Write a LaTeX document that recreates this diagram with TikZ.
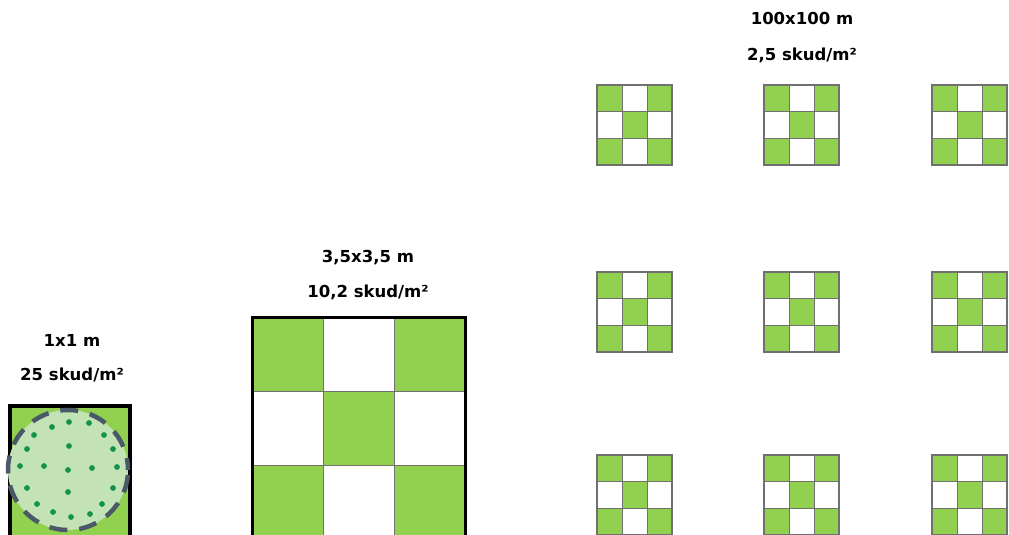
\documentclass[tikz,border=0pt]{standalone}
\usepackage{fontspec}
\setmainfont{DejaVu Sans}
\definecolor{leaf}{HTML}{92D050}
\definecolor{pale}{HTML}{C3E2B6}
\definecolor{slate}{HTML}{4A5868}
\definecolor{seed}{HTML}{14924A}
\definecolor{gridgray}{HTML}{707070}
\begin{document}
\begin{tikzpicture}[x=1pt, y=-1pt,
    sizetext/.style={anchor=base, font=\bfseries\fontsize{16.5}{19}\selectfont},
    cellline/.style={draw=gridgray, line width=0.8pt},
    seeddot/.style={fill=seed}]
        \useasboundingbox (0,0) rectangle (1009,535);

        % 1x1 m
        \node (s1-a) at (72, 346) [sizetext] {1x1 m};
        \node (s1-b) at (72, 380) [sizetext] {25 skud/m²};
        \draw[line width=4.5pt, fill=leaf] (10, 406) rectangle (130, 560);
        \draw[fill=pale, draw=slate, line width=4.5pt, dash pattern=on 18pt off 12pt, dash phase=6pt]
            (68, 470) circle (60pt);
        \foreach \p in {(69,422), (52,427), (89,423), (34,435), (104,435), (69,446),
                        (27,449), (113,449), (20,466), (44,466), (68,470), (92,468),
                        (117,467), (27,488), (113,488), (68,492), (37,504), (102,504),
                        (53,512), (90,514), (71,517)}
            \fill[seeddot] \p circle (2.9pt);

        % 3,5x3,5 m
        \node (s2-a) at (368, 262) [sizetext] {3,5x3,5 m};
        \node (s2-b) at (368, 297) [sizetext] {10,2 skud/m²};
        \foreach \c/\r in {0/0, 2/0, 1/1, 0/2, 2/2}
            \fill[leaf] (252+\c*71, 317+\r*74) rectangle +(71, 74);
        \draw[cellline] (323, 317) -- (323, 540) (394, 317) -- (394, 540)
            (252, 391) -- (465, 391) (252, 465) -- (465, 465);
        \draw[line width=3pt] (252, 545) -- (252, 317) -- (465, 317) -- (465, 545);

        % 100x100 m
        \node (s3-a) at (802, 25) [sizetext] {100x100 m};
        \node (s3-b) at (802, 60) [sizetext] {2,5 skud/m²};
        \foreach \gx in {597, 764, 932}
            \foreach \gy in {85, 272, 455} {
                \foreach \c/\r in {0/0, 2/0, 1/1, 0/2, 2/2}
                    \fill[leaf] (\gx+\c*25, \gy+\r*26.67) rectangle +(25, 26.67);
                \draw[cellline, line width=0.7pt] (\gx+25, \gy) -- +(0, 80) (\gx+50, \gy) -- +(0, 80)
                    (\gx, \gy+26.67) -- +(75, 0) (\gx, \gy+53.33) -- +(75, 0);
                \draw[gridgray, line width=1.6pt] (\gx, \gy) rectangle +(75, 80);
            }

    \end{tikzpicture}
\end{document}
